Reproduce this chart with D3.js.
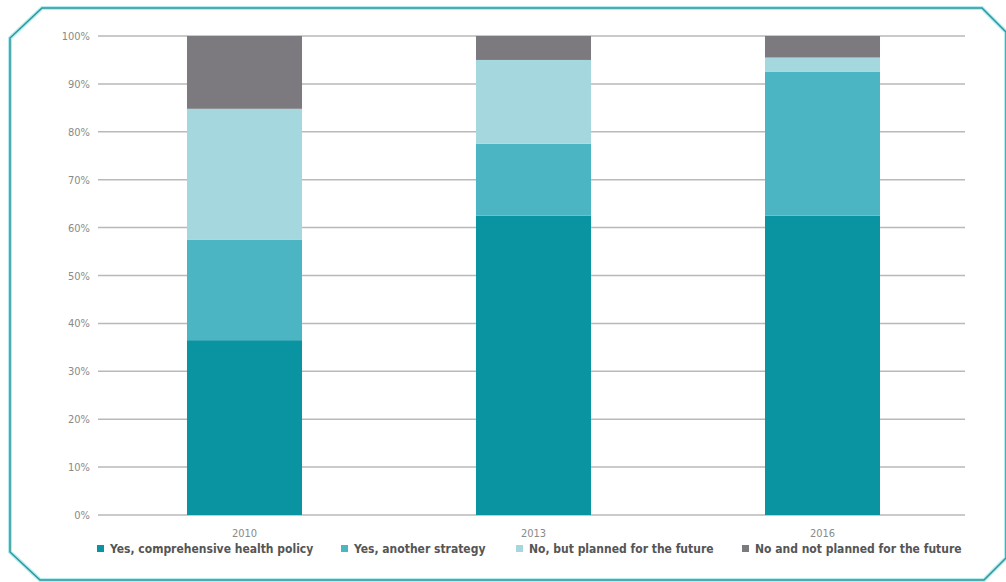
<html>
  <head>
    <script src="https://cdn.jsdelivr.net/npm/d3@7"></script>
    <style>
      body { margin: 0; background: #fff; }
      text { font-family: "DejaVu Sans Condensed", "Liberation Sans Narrow", "Roboto", sans-serif; }
    </style>
  </head>
  <body>
    <script>
      const years = ["2010", "2013", "2016"];
      const seriesNames = [
        "Yes, comprehensive health policy",
        "Yes, another strategy",
        "No, but planned for the future",
        "No and not planned for the future"
      ];
      const comprehensive = [36.5, 62.5, 62.5];
      const anotherStrategy = [21, 15, 30];
      const plannedFuture = [27.3, 17.5, 3];
      const notPlanned = [15.2, 5, 4.5];
      const yTicks = [0, 10, 20, 30, 40, 50, 60, 70, 80, 90, 100];
      const colors = ["#0a93a1", "#4cb5c3", "#a5d7df", "#7c7a7f"];

      const width = 1006, height = 582;
      const svg = d3.select("body").append("svg")
          .attr("width", width)
          .attr("height", height);

      // frame with cut corners
      const frame = [[42, 8], [982, 8], [1006, 32], [1006, 558], [984, 580], [40, 580], [10, 552], [10, 38]];
      const framePath = d3.line()(frame) + "Z";
      svg.append("path").attr("d", framePath)
          .attr("fill", "none").attr("stroke", "#b5ecef").attr("stroke-width", 4);
      svg.append("path").attr("d", framePath)
          .attr("fill", "none").attr("stroke", "#2d969c").attr("stroke-width", 1.5);

      const rows = years.map((y, i) => ({
        year: y,
        [seriesNames[0]]: comprehensive[i],
        [seriesNames[1]]: anotherStrategy[i],
        [seriesNames[2]]: plannedFuture[i],
        [seriesNames[3]]: notPlanned[i]
      }));
      const stacked = d3.stack().keys(seriesNames)(rows);

      const x = d3.scaleBand().domain(years).range([100, 967])
          .paddingInner(0.602).paddingOuter(0.301);
      const y = d3.scaleLinear().domain([0, 100]).range([515, 36]);
      const color = d3.scaleOrdinal().domain(seriesNames).range(colors);

      // gridlines
      svg.append("g").selectAll("line").data(yTicks).join("line")
          .attr("x1", 98).attr("x2", 965)
          .attr("y1", d => y(d)).attr("y2", d => y(d))
          .attr("stroke", "#b9b9b9").attr("stroke-width", 1.5);

      const yAxis = svg.append("g")
          .attr("transform", "translate(90,0)")
          .call(d3.axisLeft(y).tickValues(yTicks).tickSize(0).tickFormat(d => d + "%"));
      yAxis.select(".domain").remove();
      yAxis.selectAll("text").attr("fill", "#8a8a8a").attr("font-size", 11).attr("x", 0);

      svg.append("g").selectAll("g").data(stacked).join("g")
          .attr("fill", d => color(d.key))
        .selectAll("rect").data(d => d).join("rect")
          .attr("x", d => x(d.data.year))
          .attr("width", x.bandwidth())
          .attr("y", d => y(d[1]))
          .attr("height", d => y(d[0]) - y(d[1]));

      const xAxis = svg.append("g")
          .attr("transform", "translate(0,524)")
          .call(d3.axisBottom(x).tickSize(0));
      xAxis.select(".domain").remove();
      xAxis.selectAll("text").attr("fill", "#8a8a8a").attr("font-size", 11).attr("dy", "0.9em");

      // legend
      const legendX = [97, 341, 516, 742];
      const legend = svg.append("g").selectAll("g").data(seriesNames).join("g")
          .attr("transform", (d, i) => `translate(${legendX[i]},549)`);
      legend.append("rect").attr("x", 0).attr("y", -4).attr("width", 7).attr("height", 7)
          .attr("fill", d => color(d));
      legend.append("text").attr("x", 13).attr("y", 0).attr("dy", "0.35em")
          .attr("font-size", 12).attr("font-weight", "bold").attr("fill", "#555")
          .text(d => d);
    </script>
  </body>
</html>
